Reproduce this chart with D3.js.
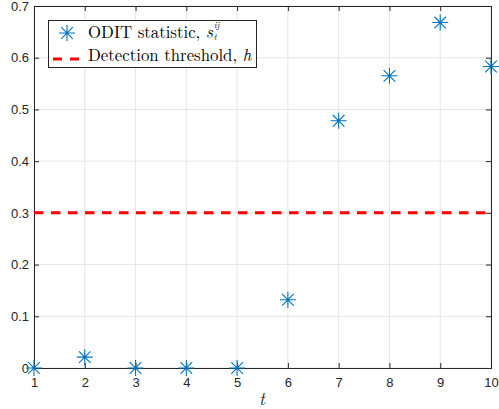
<!DOCTYPE html>
<html><head><meta charset="utf-8">
<script src="https://cdn.jsdelivr.net/npm/d3@7"></script>
<style>body{margin:0;background:#fff}</style>
</head><body>
<svg id="c" width="499" height="409"></svg>
<script>
const tValues = [1,2,3,4,5,6,7,8,9,10];
const oditStat = [0, 0.021, 0, 0, 0, 0.132, 0.478, 0.565, 0.668, 0.583];
const threshold = 0.3;
const xTicks = [1,2,3,4,5,6,7,8,9,10];
const yTicks = [0,0.1,0.2,0.3,0.4,0.5,0.6,0.7];

const svg = d3.select("#c");
const L=34, R=491, T=6, B=368;
const x = d3.scaleLinear().domain([1,10]).range([L,R]);
const y = d3.scaleLinear().domain([0,0.7]).range([B,T]);
const axisCol = "#262626";

// grid
svg.append("g").selectAll("line").data(xTicks).join("line")
  .attr("x1",d=>x(d)).attr("x2",d=>x(d)).attr("y1",T).attr("y2",B)
  .attr("stroke","#e6e6e6").attr("stroke-width",1);
svg.append("g").selectAll("line").data(yTicks).join("line")
  .attr("y1",d=>y(d)).attr("y2",d=>y(d)).attr("x1",L).attr("x2",R)
  .attr("stroke","#e6e6e6").attr("stroke-width",1);

// axes
const fmt = d => d===0 ? "0" : d3.format(".1f")(d);
const xa = svg.append("g").attr("transform",`translate(0,${B})`)
  .call(d3.axisBottom(x).tickValues(xTicks).tickSize(-5).tickPadding(10).tickFormat(d3.format("d")));
const ya = svg.append("g").attr("transform",`translate(${L},0)`)
  .call(d3.axisLeft(y).tickValues(yTicks).tickSize(-5).tickPadding(5).tickFormat(fmt));
const xt = svg.append("g").attr("transform",`translate(0,${T})`)
  .call(d3.axisTop(x).tickValues(xTicks).tickSize(-5).tickFormat(""));
const yr = svg.append("g").attr("transform",`translate(${R},0)`)
  .call(d3.axisRight(y).tickValues(yTicks).tickSize(-5).tickFormat(""));
[xa,ya,xt,yr].forEach(g=>{
  g.selectAll("path").attr("stroke",axisCol).attr("stroke-width",1);
  g.selectAll("line").attr("stroke",axisCol);
  g.selectAll("text").attr("fill",axisCol).style("font-family","Liberation Sans, Arial, sans-serif").style("font-size","13px");
});

// threshold
svg.append("line").attr("x1",x(1)).attr("x2",x(10)).attr("y1",y(threshold)).attr("y2",y(threshold))
  .attr("stroke","#ff0000").attr("stroke-width",3).attr("stroke-dasharray","9.5,7.5");

// asterisk markers
function star(g, cx, cy){
  const r=8, d=5.8;
  const p = `M${cx-r},${cy}H${cx+r}M${cx},${cy-r}V${cy+r}M${cx-d},${cy-d}L${cx+d},${cy+d}M${cx-d},${cy+d}L${cx+d},${cy-d}`;
  g.append("path").attr("d",p).attr("stroke","#0072BD").attr("stroke-width",1.1).attr("fill","none");
}
const mg = svg.append("g");
tValues.forEach((t,i)=>star(mg, x(t), y(oditStat[i])));

// legend
const lg = svg.append("g");
lg.append("rect").attr("x",48.5).attr("y",20.5).attr("width",208).attr("height",47)
  .attr("fill","#fff").attr("stroke",axisCol).attr("stroke-width",1);
star(lg, 67, 33);
lg.append("line").attr("x1",53).attr("x2",79).attr("y1",59).attr("y2",59)
  .attr("stroke","#ff0000").attr("stroke-width",3).attr("stroke-dasharray","9,8");
const sf = "Latin Modern Roman, CMU Serif, Liberation Serif, Times New Roman, serif";
const t1 = lg.append("text").attr("x",88).attr("y",38).style("font-family",sf).style("font-size","16.8px").attr("fill","#000");
t1.append("tspan").text("ODIT statistic, ");
t1.append("tspan").text("s").style("font-style","italic");
const sup = t1.append("tspan").attr("dx",1).attr("dy",-10.5).style("font-size","9px").style("font-style","italic").text("ij");
const supW = sup.node().getComputedTextLength();
t1.append("tspan").attr("dx",-supW).attr("dy",12).style("font-size","9px").style("font-style","italic").text("t");
const t2 = lg.append("text").attr("x",88).attr("y",61).style("font-family",sf).style("font-size","16.8px").attr("fill","#000");
t2.append("tspan").text("Detection threshold, ");
t2.append("tspan").text("h").style("font-style","italic");

// x label
svg.append("text").attr("x",262).attr("y",405).attr("text-anchor","middle")
  .style("font-family",sf).style("font-size","18px").style("font-style","italic").attr("fill",axisCol).text("t");
</script>
</body></html>
